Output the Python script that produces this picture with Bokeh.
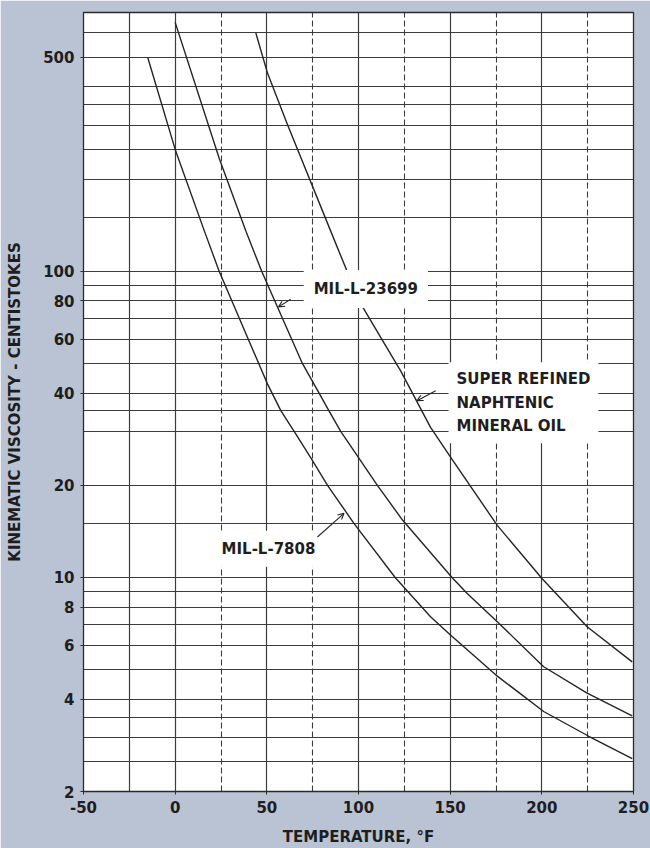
from bokeh.plotting import figure
from bokeh.models import Range1d, FixedTicker, Grid, Label, Arrow, OpenHead
from bokeh.embed import file_html
from bokeh.resources import INLINE

# ---- data ----
temp_7808 = [-15, 0, 16, 24, 50.4, 57.7, 64.9, 74, 83.1, 97.6, 120,
             139.3, 150, 175, 201, 225.6, 249.3]
visc_7808 = [500, 250, 135, 100, 42.8, 35, 30, 24.6, 20, 15, 10,
             7.44, 6.5, 4.8, 3.65, 3.03, 2.56]

temp_23699 = [0, 24, 38.6, 47.2, 69.4, 78.5, 83.9, 90.3, 110.3, 124,
              151, 159.3, 175.7, 201, 224.7, 249.3]
visc_23699 = [650, 234, 135, 100, 50, 40, 35, 30, 20, 15.4,
              10, 8.87, 7.17, 5.11, 4.19, 3.53]

temp_oil = [44, 50.4, 61.3, 84.9, 93, 100.3, 112.1, 123, 139.3, 150.2,
            175.7, 200.2, 224.7, 249.3]
visc_oil = [600, 443, 301, 135, 102.6, 80, 60.8, 47.3, 30.9, 24.7,
            14.8, 9.9, 6.9, 5.3]

x_ticks = [-50, 0, 50, 100, 150, 200, 250]
x_tick_labels = ["-50", "0", "50", "100", "150", "200", "250"]
y_ticks = [2, 4, 6, 8, 10, 20, 40, 60, 80, 100, 500]
y_tick_labels = ["2", "4", "6", "8", "10", "20", "40", "60", "80", "100", "500"]

x_grid_solid = [-25, 0, 50, 100, 150, 200]
x_grid_dashed = [25, 75, 125, 175, 225]
y_grid = [2.5, 3, 3.5, 4, 5, 6, 7, 8, 9, 10, 15, 20, 30, 35, 40, 50, 60, 70, 80, 90,
          100, 150, 200, 250, 300, 350, 400, 500, 600]

FONT = "DejaVu Sans"
INK = "#1e1e1e"
GRID = "#3c3c3c"
CURVE = "#242424"

p = figure(width=650, height=848, y_axis_type="log",
           x_range=Range1d(-50, 250), y_range=Range1d(2, 700),
           output_backend="svg", toolbar_location=None,
           min_border_left=83, min_border_right=17,
           min_border_top=12, min_border_bottom=55)

p.background_fill_color = "white"
p.border_fill_color = "#b9c3d3"
p.outline_line_color = "#2b2b2b"
p.outline_line_width = 1.3

p.xgrid.grid_line_color = None
p.ygrid.grid_line_color = None

p.add_layout(Grid(dimension=0, ticker=FixedTicker(ticks=x_grid_solid),
                  grid_line_color=GRID, grid_line_width=1.2))
p.add_layout(Grid(dimension=0, ticker=FixedTicker(ticks=x_grid_dashed),
                  grid_line_color=GRID, grid_line_width=1.1, grid_line_dash="6 3"))
p.add_layout(Grid(dimension=1, ticker=FixedTicker(ticks=y_grid),
                  grid_line_color=GRID, grid_line_width=1.2))

# curves
for xs, ys in [(temp_7808, visc_7808), (temp_23699, visc_23699), (temp_oil, visc_oil)]:
    p.line(xs, ys, line_color=CURVE, line_width=1.4, line_join="round")

# axes
for ax in (p.xaxis[0], p.yaxis[0]):
    ax.major_label_text_font = FONT
    ax.major_label_text_font_style = "bold"
    ax.major_label_text_font_size = "15px"
    ax.major_label_text_color = INK
    ax.axis_label_text_font = FONT
    ax.axis_label_text_font_style = "bold"
    ax.axis_label_text_font_size = "15px"
    ax.axis_label_text_color = INK
    ax.axis_line_color = "#2b2b2b"
    ax.major_tick_line_color = "#2b2b2b"
    ax.major_tick_in = 0
    ax.major_tick_out = 3
    ax.minor_tick_line_color = None

p.xaxis.ticker = FixedTicker(ticks=x_ticks)
p.xaxis.major_label_overrides = dict(zip(x_ticks, x_tick_labels))
p.xaxis.major_label_standoff = 6
p.xaxis.axis_label = "TEMPERATURE, °F"
p.xaxis.axis_label_standoff = 12

p.yaxis.ticker = FixedTicker(ticks=y_ticks)
p.yaxis.major_label_overrides = dict(zip(y_ticks, y_tick_labels))
p.yaxis.major_label_standoff = 6
p.yaxis.axis_label = "KINEMATIC VISCOSITY - CENTISTOKES"
p.yaxis.axis_label_standoff = 16

# annotations
def lab(x, y, text, pad):
    return Label(x=x, y=y, text=text, text_font=FONT, text_font_style="bold",
                 text_font_size="15px", text_color=INK, text_align="left",
                 text_baseline="middle", text_line_height=1.3,
                 background_fill_color="white", padding=pad)

p.add_layout(lab(70.1, 87.6, "MIL-L-23699", 10))
p.add_layout(lab(149.1, 37.2, "SUPER REFINED\nNAPHTENIC\nMINERAL OIL", 8))
p.add_layout(lab(20.4, 12.4, "MIL-L-7808", 9))

def leader(x0, y0, x1, y1):
    return Arrow(end=OpenHead(size=6, line_color=CURVE, line_width=1.1),
                 x_start=x0, y_start=y0, x_end=x1, y_end=y1,
                 line_color=CURVE, line_width=1.1)

p.add_layout(leader(63.0, 81.0, 56.4, 76.5))
p.add_layout(leader(142.1, 40.7, 131.9, 37.8))
p.add_layout(leader(77.6, 13.56, 92.1, 16.2))

open("out.html", "w").write(file_html(p, INLINE))
